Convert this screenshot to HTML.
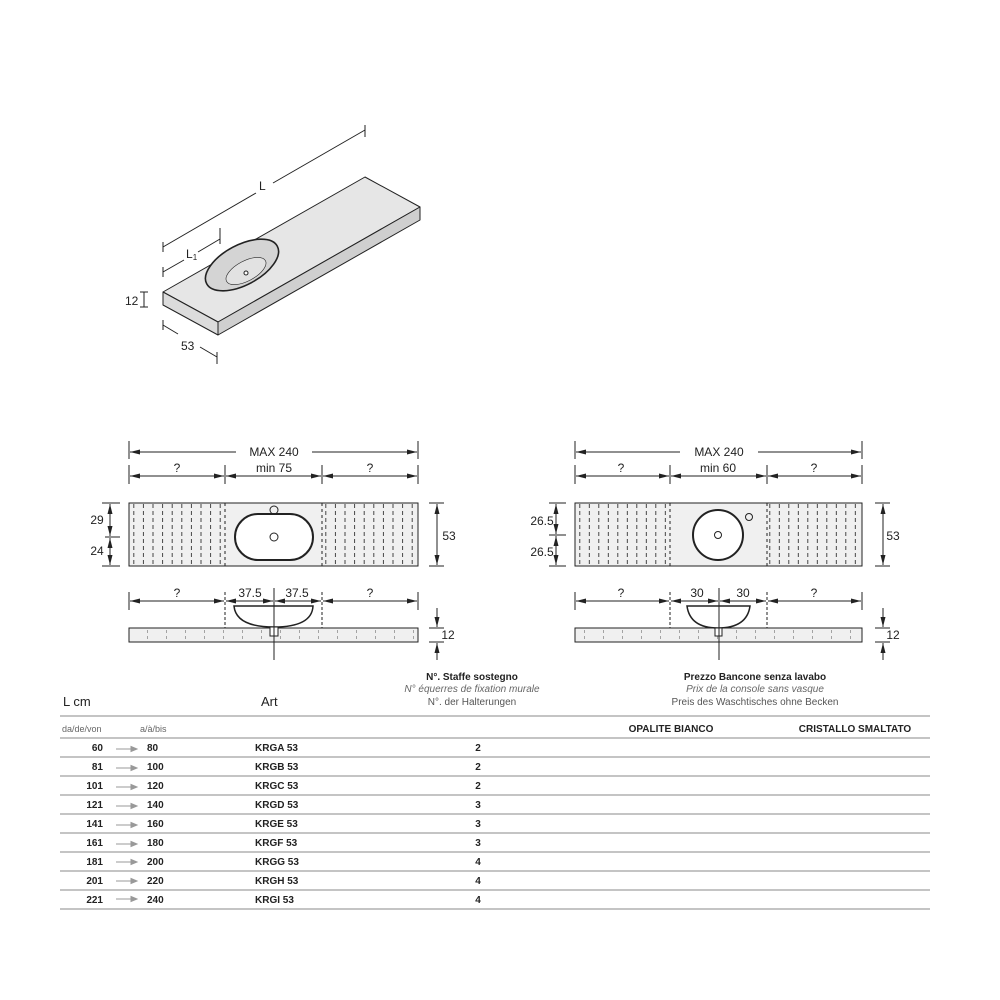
<!DOCTYPE html>
<html><head><meta charset="utf-8"><style>
html,body{margin:0;padding:0;background:#fff;}
svg{display:block;font-family:"Liberation Sans",Arial,sans-serif;}
</style></head><body>
<svg width="1000" height="1000" viewBox="0 0 1000 1000" xmlns="http://www.w3.org/2000/svg">
<defs>
<marker id="a" viewBox="0 0 10 6" refX="10" refY="3" markerWidth="10" markerHeight="6" orient="auto-start-reverse" markerUnits="userSpaceOnUse"><path d="M0,0.5 L10,3 L0,5.5z" fill="#222"/></marker>
<pattern id="h1" x="129" y="0" width="9.6" height="7" patternUnits="userSpaceOnUse"><line x1="4.8" y1="0" x2="4.8" y2="4" stroke="#333" stroke-width="0.9"/></pattern>
<pattern id="h2" x="575" y="0" width="9.5" height="7" patternUnits="userSpaceOnUse"><line x1="4.8" y1="0" x2="4.8" y2="4" stroke="#333" stroke-width="0.9"/></pattern>
<pattern id="s1" x="129" y="0" width="19" height="6" patternUnits="userSpaceOnUse"><line x1="19" y1="0" x2="19" y2="3" stroke="#444" stroke-width="0.9"/></pattern>
</defs>

<!-- ISOMETRIC -->
<g stroke="#222" stroke-width="1" fill="#ebebeb" stroke-linejoin="round">
<polygon points="163,292 365,177 420,207 218,322" fill="#e6e6e6"/>
<polygon points="163,292 218,322 218,335 163,305" fill="#dcdcdc"/>
<polygon points="218,322 420,207 420,220 218,335" fill="#cfcfcf"/>
<ellipse cx="242" cy="265" rx="40" ry="20" transform="rotate(-28 242 265)" fill="#d4d4d4" stroke-width="1.6"/>
<ellipse cx="246" cy="271" rx="22" ry="10" transform="rotate(-28 246 271)" fill="#e2e2e2" stroke-width="0.6"/>
<circle cx="246" cy="273" r="2" fill="#fff"/>
</g>
<g stroke="#222" stroke-width="1" fill="none">
<line x1="163" y1="247" x2="256" y2="193"/><line x1="273" y1="183" x2="365" y2="130"/>
<line x1="163" y1="242" x2="163" y2="252"/><line x1="365" y1="125" x2="365" y2="137"/>
<line x1="163" y1="272" x2="184" y2="260"/><line x1="198" y1="252" x2="220" y2="239"/>
<line x1="163" y1="267" x2="163" y2="277"/><line x1="220" y1="228" x2="220" y2="244"/>
<line x1="144" y1="292" x2="144" y2="307"/><line x1="140" y1="292" x2="148" y2="292"/><line x1="140" y1="307" x2="148" y2="307"/>
<line x1="163" y1="325" x2="178" y2="334"/><line x1="200" y1="347" x2="217" y2="357"/>
<line x1="163" y1="320" x2="163" y2="330"/><line x1="217" y1="352" x2="217" y2="364"/>
</g>
<g font-size="12" fill="#222">
<text x="259" y="190">L</text><text x="186" y="258">L<tspan font-size="8" dy="2">1</tspan></text>
<text x="125" y="305">12</text><text x="181" y="350">53</text>
</g>

<!-- LEFT PLAN -->
<g stroke="#222" stroke-width="1" fill="none">
<line x1="129" y1="441" x2="129" y2="459"/><line x1="418" y1="441" x2="418" y2="459"/>
<line x1="130" y1="452" x2="236" y2="452" marker-start="url(#a)"/><line x1="312" y1="452" x2="417" y2="452" marker-end="url(#a)"/>
<line x1="129" y1="465" x2="129" y2="484"/><line x1="225" y1="465" x2="225" y2="484"/><line x1="322" y1="465" x2="322" y2="484"/><line x1="418" y1="465" x2="418" y2="484"/>
<line x1="130" y1="476" x2="224" y2="476" marker-start="url(#a)" marker-end="url(#a)"/>
<line x1="226" y1="476" x2="321" y2="476" marker-start="url(#a)" marker-end="url(#a)"/>
<line x1="323" y1="476" x2="417" y2="476" marker-start="url(#a)" marker-end="url(#a)"/>
</g>
<rect x="129" y="503" width="289" height="63" fill="#f0f0f0" stroke="#222"/>
<rect x="129" y="504" width="96" height="61" fill="url(#h1)"/>
<rect x="322" y="504" width="96" height="61" fill="url(#h1)"/>
<g stroke="#222" fill="none">
<line x1="225" y1="503" x2="225" y2="566" stroke-dasharray="3,3"/><line x1="322" y1="503" x2="322" y2="566" stroke-dasharray="3,3"/>
<rect x="235" y="514" width="78" height="46" rx="23" stroke-width="2" fill="#fff"/>
<circle cx="274" cy="510" r="4"/><circle cx="274" cy="537" r="4"/>
<line x1="110" y1="504" x2="110" y2="536" marker-start="url(#a)" marker-end="url(#a)"/>
<line x1="110" y1="538" x2="110" y2="565" marker-start="url(#a)" marker-end="url(#a)"/>
<line x1="102" y1="503" x2="120" y2="503"/><line x1="105" y1="537" x2="120" y2="537"/><line x1="102" y1="566" x2="120" y2="566"/>
<line x1="429" y1="503" x2="444" y2="503"/><line x1="429" y1="566" x2="444" y2="566"/>
<line x1="437" y1="504" x2="437" y2="565" marker-start="url(#a)" marker-end="url(#a)"/>
<line x1="129" y1="592" x2="129" y2="610"/><line x1="418" y1="592" x2="418" y2="610"/>
<line x1="225" y1="592" x2="225" y2="628" stroke-dasharray="3,2"/><line x1="322" y1="592" x2="322" y2="628" stroke-dasharray="3,2"/>
<line x1="130" y1="601" x2="224" y2="601" marker-start="url(#a)" marker-end="url(#a)"/>
<line x1="226" y1="601" x2="273" y2="601" marker-start="url(#a)" marker-end="url(#a)"/>
<line x1="275" y1="601" x2="321" y2="601" marker-start="url(#a)" marker-end="url(#a)"/>
<line x1="323" y1="601" x2="417" y2="601" marker-start="url(#a)" marker-end="url(#a)"/>
</g>
<rect x="129" y="628" width="289" height="14" fill="#f0f0f0" stroke="#222"/>
<rect x="129" y="630" width="289" height="10" fill="url(#s1)"/>
<g stroke="#222" fill="none">
<path d="M234,606 Q236,627 274,627 Q312,627 313,606 Z" fill="#fff" stroke-width="1.5"/>
<rect x="270" y="627" width="8" height="9" fill="#fff"/>
<line x1="274" y1="588" x2="274" y2="660"/>
<line x1="429" y1="628" x2="444" y2="628"/><line x1="429" y1="642" x2="444" y2="642"/>
<line x1="437" y1="608" x2="437" y2="627" marker-end="url(#a)"/><line x1="437" y1="660" x2="437" y2="643" marker-end="url(#a)"/>
</g>
<g font-size="12" fill="#222" text-anchor="middle">
<text x="274" y="456">MAX 240</text><text x="274" y="472">min 75</text>
<text x="177" y="472">?</text><text x="370" y="472">?</text>
<text x="97" y="524">29</text><text x="97" y="555">24</text><text x="449" y="540">53</text>
<text x="177" y="597">?</text><text x="250" y="597">37.5</text><text x="297" y="597">37.5</text><text x="370" y="597">?</text>
<text x="448" y="639">12</text>
</g>

<!-- RIGHT PLAN -->
<g stroke="#222" stroke-width="1" fill="none">
<line x1="575" y1="441" x2="575" y2="459"/><line x1="862" y1="441" x2="862" y2="459"/>
<line x1="576" y1="452" x2="680" y2="452" marker-start="url(#a)"/><line x1="758" y1="452" x2="861" y2="452" marker-end="url(#a)"/>
<line x1="575" y1="465" x2="575" y2="484"/><line x1="670" y1="465" x2="670" y2="484"/><line x1="767" y1="465" x2="767" y2="484"/><line x1="862" y1="465" x2="862" y2="484"/>
<line x1="576" y1="476" x2="669" y2="476" marker-start="url(#a)" marker-end="url(#a)"/>
<line x1="671" y1="476" x2="766" y2="476" marker-start="url(#a)" marker-end="url(#a)"/>
<line x1="768" y1="476" x2="861" y2="476" marker-start="url(#a)" marker-end="url(#a)"/>
</g>
<rect x="575" y="503" width="287" height="63" fill="#f0f0f0" stroke="#222"/>
<rect x="575" y="504" width="95" height="61" fill="url(#h2)"/>
<rect x="767" y="504" width="95" height="61" fill="url(#h2)"/>
<g stroke="#222" fill="none">
<line x1="670" y1="503" x2="670" y2="566" stroke-dasharray="3,3"/><line x1="767" y1="503" x2="767" y2="566" stroke-dasharray="3,3"/>
<circle cx="718" cy="535" r="25" stroke-width="2" fill="#fff"/>
<circle cx="718" cy="535" r="3.5"/><circle cx="749" cy="517" r="3.5"/>
<line x1="556" y1="504" x2="556" y2="534" marker-start="url(#a)" marker-end="url(#a)"/>
<line x1="556" y1="536" x2="556" y2="565" marker-start="url(#a)" marker-end="url(#a)"/>
<line x1="549" y1="503" x2="566" y2="503"/><line x1="549" y1="535" x2="566" y2="535"/><line x1="549" y1="566" x2="566" y2="566"/>
<line x1="875" y1="503" x2="890" y2="503"/><line x1="875" y1="566" x2="890" y2="566"/>
<line x1="883" y1="504" x2="883" y2="565" marker-start="url(#a)" marker-end="url(#a)"/>
<line x1="575" y1="592" x2="575" y2="610"/><line x1="862" y1="592" x2="862" y2="610"/>
<line x1="670" y1="592" x2="670" y2="628" stroke-dasharray="3,2"/><line x1="767" y1="592" x2="767" y2="628" stroke-dasharray="3,2"/>
<line x1="576" y1="601" x2="669" y2="601" marker-start="url(#a)" marker-end="url(#a)"/>
<line x1="671" y1="601" x2="718" y2="601" marker-start="url(#a)" marker-end="url(#a)"/>
<line x1="720" y1="601" x2="766" y2="601" marker-start="url(#a)" marker-end="url(#a)"/>
<line x1="768" y1="601" x2="861" y2="601" marker-start="url(#a)" marker-end="url(#a)"/>
</g>
<rect x="575" y="628" width="287" height="14" fill="#f0f0f0" stroke="#222"/>
<rect x="575" y="630" width="287" height="10" fill="url(#s1)"/>
<g stroke="#222" fill="none">
<path d="M687,606 Q690,628 718,628 Q747,628 750,606 Z" fill="#fff" stroke-width="1.5"/>
<rect x="715" y="628" width="7" height="8" fill="#fff"/>
<line x1="719" y1="588" x2="719" y2="660"/>
<line x1="875" y1="628" x2="890" y2="628"/><line x1="875" y1="642" x2="890" y2="642"/>
<line x1="883" y1="608" x2="883" y2="627" marker-end="url(#a)"/><line x1="883" y1="660" x2="883" y2="643" marker-end="url(#a)"/>
</g>
<g font-size="12" fill="#222" text-anchor="middle">
<text x="719" y="456">MAX 240</text><text x="718" y="472">min 60</text>
<text x="621" y="472">?</text><text x="814" y="472">?</text>
<text x="542" y="525">26.5</text><text x="542" y="556">26.5</text><text x="893" y="540">53</text>
<text x="621" y="597">?</text><text x="697" y="597">30</text><text x="743" y="597">30</text><text x="814" y="597">?</text>
<text x="893" y="639">12</text>
</g>

<!-- TABLE -->
<g fill="#222">
<text x="63" y="706" font-size="13">L cm</text>
<text x="261" y="706" font-size="13">Art</text>
<g text-anchor="middle" font-size="10">
<text x="472" y="680" font-weight="bold">N°. Staffe sostegno</text>
<text x="472" y="692" font-style="italic" fill="#666">N° équerres de fixation murale</text>
<text x="472" y="705" fill="#555">N°. der Halterungen</text>
<text x="755" y="680" font-weight="bold">Prezzo Bancone senza lavabo</text>
<text x="755" y="692" font-style="italic" fill="#666">Prix de la console sans vasque</text>
<text x="755" y="705" fill="#555">Preis des Waschtisches ohne Becken</text>
<text x="671" y="732" font-weight="bold">OPALITE BIANCO</text>
<text x="855" y="732" font-weight="bold">CRISTALLO SMALTATO</text>
</g>
<text x="62" y="732" font-size="9" fill="#666">da/de/von</text>
<text x="140" y="732" font-size="9" fill="#666">a/à/bis</text>
</g>
<g stroke="#888" stroke-width="1">
<line x1="60" y1="716" x2="930" y2="716"/><line x1="60" y1="738" x2="930" y2="738"/>
<line x1="60" y1="757" x2="930" y2="757"/><line x1="60" y1="776" x2="930" y2="776"/>
<line x1="60" y1="795" x2="930" y2="795"/><line x1="60" y1="814" x2="930" y2="814"/>
<line x1="60" y1="833" x2="930" y2="833"/><line x1="60" y1="852" x2="930" y2="852"/>
<line x1="60" y1="871" x2="930" y2="871"/><line x1="60" y1="890" x2="930" y2="890"/>
<line x1="60" y1="909" x2="930" y2="909"/>
</g>
<g font-size="10" font-weight="bold" fill="#222">
<g text-anchor="end"><text x="103" y="751">60</text><text x="103" y="770">81</text><text x="103" y="789">101</text><text x="103" y="808">121</text><text x="103" y="827">141</text><text x="103" y="846">161</text><text x="103" y="865">181</text><text x="103" y="884">201</text><text x="103" y="903">221</text></g>
<text x="147" y="751">80</text><text x="147" y="770">100</text><text x="147" y="789">120</text><text x="147" y="808">140</text><text x="147" y="827">160</text><text x="147" y="846">180</text><text x="147" y="865">200</text><text x="147" y="884">220</text><text x="147" y="903">240</text>
<text x="255" y="751">KRGA 53</text><text x="255" y="770">KRGB 53</text><text x="255" y="789">KRGC 53</text><text x="255" y="808">KRGD 53</text><text x="255" y="827">KRGE 53</text><text x="255" y="846">KRGF 53</text><text x="255" y="865">KRGG 53</text><text x="255" y="884">KRGH 53</text><text x="255" y="903">KRGI 53</text>
<g text-anchor="middle"><text x="478" y="751">2</text><text x="478" y="770">2</text><text x="478" y="789">2</text><text x="478" y="808">3</text><text x="478" y="827">3</text><text x="478" y="846">3</text><text x="478" y="865">4</text><text x="478" y="884">4</text><text x="478" y="903">4</text></g>
</g>
<g stroke="#999" stroke-width="1" fill="#999">
<path d="M116,749 H131"/><path d="M131,746.5 L137,749 L131,751.5z"/>
<path d="M116,768 H131"/><path d="M131,765.5 L137,768 L131,770.5z"/>
<path d="M116,787 H131"/><path d="M131,784.5 L137,787 L131,789.5z"/>
<path d="M116,806 H131"/><path d="M131,803.5 L137,806 L131,808.5z"/>
<path d="M116,825 H131"/><path d="M131,822.5 L137,825 L131,827.5z"/>
<path d="M116,844 H131"/><path d="M131,841.5 L137,844 L131,846.5z"/>
<path d="M116,862 H131"/><path d="M131,859.5 L137,862 L131,864.5z"/>
<path d="M116,881 H131"/><path d="M131,878.5 L137,881 L131,883.5z"/>
<path d="M116,899 H131"/><path d="M131,896.5 L137,899 L131,901.5z"/>
</g>
</svg>
</body></html>
